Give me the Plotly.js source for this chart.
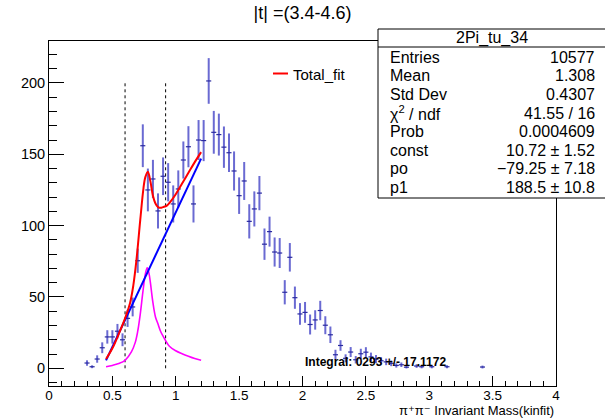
<!DOCTYPE html>
<html>
<head>
<meta charset="utf-8">
<script src="https://cdn.plot.ly/plotly-3.0.1.min.js"></script>
<style>html,body{margin:0;padding:0;background:#fff;}#chart{width:605px;height:418px;}</style>
</head>
<body>
<div id="chart"></div>
<script>
// Histogram bin centres (bin width 0.04) and contents
const binCenters = [0.30,0.34,0.38,0.42,0.46,0.50,0.54,0.58,0.62,0.66,0.70,0.74,0.78,0.82,0.86,0.90,0.94,0.98,1.02,1.06,1.10,1.14,1.18,1.22,1.26,1.30,1.34,1.38,1.42,1.46,1.50,1.54,1.58,1.62,1.66,1.70,1.74,1.78,1.82,1.86,1.90,1.94,1.98,2.02,2.06,2.10,2.14,2.18,2.22,2.26,2.30,2.34,2.38,2.42,2.46,2.50,2.54,2.58,2.62,2.66,2.70,2.74,2.78,2.82,2.90,2.94,3.02,3.14,3.42];
const counts = [3.7,1.1,6.5,14.4,22,22,26,20,35,43,75.4,156,125,132.7,110.3,134.6,130.4,115.2,125.7,146,155.3,115.2,160,159.6,201.4,165.4,163.8,155,151.1,138.3,121,131.3,103,111.7,122.8,87,95.8,81.5,80.8,53.3,77.8,49.5,38.1,39.2,30.7,33.9,40.5,30.2,23.5,9.5,16,7,11.4,6,10.2,11.3,8,6.5,5.3,4.5,3.5,2,2.5,0.8,1.6,1.1,1.1,1.1,0.9];
const errors = [1.9,1,2.6,3.8,4.7,4.7,5.1,4.5,6,6.6,8.5,15,15,13.4,12.3,13.2,13.4,13,13,13,14.4,13,14,14.4,16,15,14.7,14.5,13.5,13.7,12.8,13.3,12,12.3,12,11,10.5,10.2,10.5,8.5,10,7.8,7.6,7.3,7,6.8,6.8,6.3,5.8,3.5,3.7,2.8,3.5,2.6,3.5,3.5,3,2.8,2.5,2.3,2,1.5,1.6,0.9,1.3,1.1,1.1,1.1,1];

// Total fit (red)
const totalX = [0.45,0.50,0.55,0.60,0.64,0.665,0.69,0.72,0.745,0.76,0.78,0.80,0.82,0.84,0.86,0.88,0.90,0.93,0.96,1.00,1.05,1.10,1.15,1.20];
const totalY = [6.5,14,24,35,46,58,76,104,126,134,137.8,131,121,115.5,113,112.5,113,114,117,122,129.5,137,144.5,151.5];
// Linear background (blue)
const bgX = [0.45,1.20];
const bgY = [5.6,147.0];
// Breit-Wigner component (magenta)
const bwX = [0.45,0.50,0.55,0.60,0.65,0.68,0.70,0.72,0.74,0.76,0.775,0.79,0.80,0.82,0.84,0.86,0.88,0.90,0.95,1.00,1.05,1.10,1.15,1.20];
const bwY = [1.1,2.0,3.3,5.6,11.5,18,26,38,53,66,70.5,66,60,46,36,31,26,22.5,15.5,12.3,10.2,8.4,6.8,5.6];
// Integration window (dotted lines)
const windowX = [0.60,0.92];

const xTickVals = [0,0.5,1,1.5,2,2.5,3,3.5,4];
const xTickText = ['0','0.5','1','1.5','2','2.5','3','3.5','4'];

const statsTitle = '2Pi_tu_34';
const statsLabels = ['Entries','Mean','Std Dev','\u03c7<sup>2</sup> / ndf','Prob','const','po','p1'];
const statsValues = ['10577','1.308','0.4307','41.55 / 16','0.0004609','10.72 \u00b1 1.52','\u221279.25 \u00b1 7.18','188.5 \u00b1 10.8'];

const FONT = 'Liberation Sans, Arial, Helvetica, DejaVu Sans, sans-serif';
const W = 605, H = 418, M = {l:49, r:49, t:41, b:32};
const PW = W - M.l - M.r, PH = H - M.t - M.b;
const px = v => (v - M.l) / PW;
const py = v => (H - M.b - v) / PH;

const ymax = Math.max(...counts);
const dotX = [], dotY = [];
windowX.forEach(x => { dotX.push(x, x, null); dotY.push(0, ymax, null); });

const traces = [
  {x: binCenters, y: counts, type: 'scatter', mode: 'markers',
   marker: {size: 1, color: 'rgba(0,0,0,0)'},
   error_y: {type: 'data', array: errors, visible: true, color: '#6a6ad2', thickness: 2, width: 0},
   error_x: {type: 'constant', value: 0.02, visible: true, color: '#2a2aa0', thickness: 1.2, width: 0},
   showlegend: false, hoverinfo: 'skip'},
  {x: dotX, y: dotY, type: 'scatter', mode: 'lines', line: {color: '#000', width: 1, dash: 'dot'}, showlegend: false},
  {x: bwX, y: bwY, type: 'scatter', mode: 'lines', line: {color: '#ff00ff', width: 1.6, shape: 'spline'}, showlegend: false},
  {x: bgX, y: bgY, type: 'scatter', mode: 'lines', line: {color: '#0000ff', width: 2}, showlegend: false},
  {x: totalX, y: totalY, type: 'scatter', mode: 'lines', line: {color: '#ff0000', width: 2, shape: 'spline'}, showlegend: false}
];

const annotations = [];
const shapes = [];
// stats box
const bx0 = px(378), bx1 = px(620), by0 = py(198), by1 = py(29);
shapes.push({type: 'rect', xref: 'paper', yref: 'paper', x0: bx0, x1: bx1, y0: by0, y1: by1,
  line: {color: '#000', width: 1}, fillcolor: '#fff', layer: 'above'});
shapes.push({type: 'line', xref: 'paper', yref: 'paper', x0: bx0, x1: bx1, y0: py(47), y1: py(47),
  line: {color: '#000', width: 1}, layer: 'above'});
annotations.push({xref: 'paper', yref: 'paper', x: px(491.5), y: py(38), text: statsTitle, showarrow: false,
  xanchor: 'center', yanchor: 'middle', font: {family: FONT, size: 16, color: '#000'}});
const rowY = [57, 75.7, 94.4, 113, 131.5, 150, 168.5, 187];
statsLabels.forEach((t, i) => {
  annotations.push({xref: 'paper', yref: 'paper', x: px(388), y: py(rowY[i]), text: t, showarrow: false,
    xanchor: 'left', yanchor: 'middle', font: {family: FONT, size: 16, color: '#000'}});
  annotations.push({xref: 'paper', yref: 'paper', x: px(597), y: py(rowY[i]), text: statsValues[i], showarrow: false,
    xanchor: 'right', yanchor: 'middle', font: {family: FONT, size: 16, color: '#000'}});
});
// legend
shapes.push({type: 'line', xref: 'paper', yref: 'paper', x0: px(273), x1: px(288), y0: py(73.5), y1: py(73.5),
  line: {color: '#ff0000', width: 2}});
annotations.push({xref: 'paper', yref: 'paper', x: px(291), y: py(74), text: 'Total_fit', showarrow: false,
  xanchor: 'left', yanchor: 'middle', font: {family: FONT, size: 15, color: '#000'}});
// integral text
annotations.push({xref: 'x', yref: 'y', x: 2.0, y: 4.1, text: '<b>Integral: 0293 +/- 17.1172</b>', showarrow: false,
  xanchor: 'left', yanchor: 'middle', font: {family: FONT, size: 12, color: '#000'}});
// x-axis title
annotations.push({xref: 'paper', yref: 'paper', x: px(556), y: py(410.5), text: '\u03c0\u207a\u03c0\u207b Invariant Mass(kinfit)', showarrow: false,
  xanchor: 'right', yanchor: 'middle', font: {family: FONT, size: 13, color: '#000'}});

const layout = {
  width: W, height: H, margin: M,
  paper_bgcolor: '#fff', plot_bgcolor: '#fff',
  title: {text: '|t| =(3.4-4.6)', font: {family: FONT, size: 18, color: '#000'}, x: 0.5, xref: 'container', xanchor: 'center', y: 1 - 13/418, yref: 'container', yanchor: 'middle'},
  xaxis: {range: [0, 4], tickvals: xTickVals, ticktext: xTickText, ticks: 'inside', ticklen: 10, tickwidth: 1, tickcolor: '#000',
    showline: true, linecolor: '#000', linewidth: 1, mirror: true, showgrid: false, zeroline: false,
    ticklabelstandoff: -3,
    tickfont: {family: FONT, size: 13.5, color: '#000'},
    minor: {dtick: 0.1, tick0: 0, ticks: 'inside', ticklen: 5, tickcolor: '#000', tickwidth: 1, showgrid: false}},
  yaxis: {range: [-12.4, 229.4], tick0: 0, dtick: 50, ticks: 'inside', ticklen: 15, tickwidth: 1, tickcolor: '#000',
    showline: true, linecolor: '#000', linewidth: 1, mirror: true, showgrid: false, zeroline: false,
    tickfont: {family: FONT, size: 14.5, color: '#000'},
    minor: {dtick: 10, tick0: 0, ticks: 'inside', ticklen: 8, tickcolor: '#000', tickwidth: 1, showgrid: false}},
  shapes: shapes, annotations: annotations, showlegend: false
};

Plotly.newPlot('chart', traces, layout, {displayModeBar: false, staticPlot: true});
</script>
</body>
</html>
